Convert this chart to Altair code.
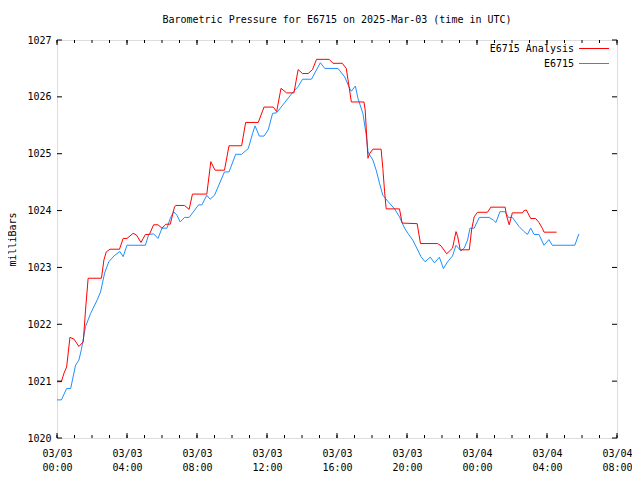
import json
import altair as alt
import pandas as pd

# ---- data (hours since 2025-03-03 00:00 UTC, pressure in mbar) ----
red_h = [0, 0.25, 0.4, 0.55, 0.74, 0.97, 1.25, 1.5, 1.63, 1.78, 2.54, 2.68, 2.81, 3.02, 3.57, 3.78, 4.0,
         4.35, 4.54, 4.8, 5.05, 5.28, 5.52, 5.77, 6.0, 6.22, 6.47, 6.72, 6.8, 7.29, 7.55, 7.74, 8.56, 8.79,
         9.03, 9.57, 9.83, 10.55, 10.78, 11.5, 11.83, 12.36, 12.55, 12.8, 13.12, 13.54, 13.78, 14.03, 14.35,
         14.6, 14.83, 15.55, 15.77, 16.3, 16.53, 16.63, 16.82, 17.54, 17.61, 17.67, 17.77, 17.86, 18.05,
         18.52, 18.62, 18.72, 18.81, 19.57, 19.72, 20.58, 20.77, 21.75, 21.94, 22.27, 22.6, 22.8, 22.9,
         23.04, 23.56, 23.69, 23.84, 24.03, 24.6, 24.79, 25.61, 25.68, 25.84, 26.02, 26.6, 26.69, 26.82,
         27.07, 27.35, 27.54, 27.73, 27.83, 28.55]
red_p = [1020.99, 1020.99, 1021.14, 1021.25, 1021.77, 1021.74, 1021.61, 1021.69, 1022.25, 1022.81,
         1022.81, 1023.13, 1023.27, 1023.32, 1023.32, 1023.51, 1023.51, 1023.6, 1023.57, 1023.44, 1023.58,
         1023.58, 1023.75, 1023.75, 1023.69, 1023.76, 1023.76, 1024.07, 1024.09, 1024.09, 1024.02, 1024.29,
         1024.29, 1024.86, 1024.71, 1024.71, 1025.14, 1025.14, 1025.55, 1025.55, 1025.82, 1025.82, 1025.74,
         1026.15, 1026.07, 1026.07, 1026.48, 1026.41, 1026.41, 1026.48, 1026.66, 1026.66, 1026.59, 1026.59,
         1026.5, 1026.3, 1025.91, 1025.91, 1025.77, 1025.45, 1024.92, 1025.0, 1025.08, 1025.08, 1024.74,
         1024.33, 1024.03, 1024.03, 1023.78, 1023.77, 1023.42, 1023.42, 1023.38, 1023.24, 1023.34, 1023.63,
         1023.54, 1023.31, 1023.31, 1023.66, 1023.89, 1023.97, 1023.97, 1024.06, 1024.06, 1023.92, 1023.75,
         1023.96, 1023.96, 1024.0, 1024.01, 1023.86, 1023.86, 1023.79, 1023.69, 1023.62, 1023.62]

blue_h = [0, 0.25, 0.55, 0.78, 1.06, 1.25, 1.39, 1.63, 1.92, 2.3, 2.49, 2.72, 2.96, 3.25, 3.59, 3.78, 4.0,
          5.05, 5.24, 5.52, 5.77, 6.0, 6.28, 6.47, 6.66, 6.85, 7.04, 7.29, 7.55, 8.09, 8.28, 8.56, 8.75, 9.0,
          9.57, 9.83, 10.21, 10.55, 10.93, 11.18, 11.32, 11.56, 11.83, 12.07, 12.32, 12.55, 13.5, 13.78,
          14.03, 14.54, 15.05, 15.3, 16.06, 16.44, 16.72, 16.82, 17.05, 17.2, 17.48, 17.67, 17.77, 17.86,
          18.05, 18.24, 18.43, 18.62, 18.91, 19.29, 19.57, 19.86, 20.05, 20.33, 20.8, 21.03, 21.33, 21.57,
          21.85, 22.08, 22.32, 22.6, 22.8, 23.08, 23.27, 23.46, 23.6, 23.84, 24.13, 24.7, 24.94, 25.08,
          25.31, 25.61, 25.8, 26.02, 26.4, 26.69, 26.88, 27.07, 27.26, 27.54, 27.83, 28.11, 28.3, 29.59,
          29.82]
blue_p = [1020.67, 1020.67, 1020.87, 1020.87, 1021.28, 1021.37, 1021.55, 1021.96, 1022.19, 1022.43,
          1022.57, 1022.9, 1023.1, 1023.2, 1023.28, 1023.19, 1023.39, 1023.39, 1023.58, 1023.59, 1023.51,
          1023.69, 1023.69, 1023.86, 1023.98, 1023.92, 1023.8, 1023.88, 1023.88, 1024.1, 1024.1, 1024.27,
          1024.2, 1024.27, 1024.68, 1024.68, 1024.99, 1024.99, 1025.09, 1025.36, 1025.49, 1025.31, 1025.31,
          1025.42, 1025.71, 1025.72, 1026.09, 1026.18, 1026.31, 1026.31, 1026.6, 1026.5, 1026.5, 1026.35,
          1026.15, 1026.1, 1026.19, 1025.97, 1025.71, 1025.33, 1025.04, 1024.98, 1024.89, 1024.71, 1024.48,
          1024.27, 1024.16, 1024.03, 1023.89, 1023.69, 1023.6, 1023.48, 1023.19, 1023.1, 1023.18, 1023.08,
          1023.18, 1022.98, 1023.1, 1023.2, 1023.39, 1023.29, 1023.34, 1023.48, 1023.69, 1023.69, 1023.88,
          1023.88, 1023.83, 1023.79, 1023.98, 1023.98, 1023.88, 1023.88, 1023.72, 1023.63, 1023.58, 1023.69,
          1023.58, 1023.58, 1023.39, 1023.49, 1023.39, 1023.39, 1023.59]

assert len(red_h) == len(red_p) and len(blue_h) == len(blue_p)

series_names = ["E6715 Analysis", "E6715"]
series_colors = ["#ff0000", "#1e8fff"]

x_major = [0, 4, 8, 12, 16, 20, 24, 28, 32]
x_minor = list(range(0, 33))
x_labels = [["03/03", "00:00"], ["03/03", "04:00"], ["03/03", "08:00"], ["03/03", "12:00"],
            ["03/03", "16:00"], ["03/03", "20:00"], ["03/04", "00:00"], ["03/04", "04:00"],
            ["03/04", "08:00"]]
y_ticks = [1020, 1021, 1022, 1023, 1024, 1025, 1026, 1027]

W, H = 560, 398
FONT = "DejaVu Sans Mono"

xs = alt.Scale(domain=[0, 32], nice=False, zero=False)
ys = alt.Scale(domain=[1020, 1027], nice=False, zero=False)

red_df = pd.DataFrame({"h": red_h, "p": red_p})
blue_df = pd.DataFrame({"h": blue_h, "p": blue_p})

label_expr = json.dumps(x_labels).replace('"', "'") + "[round(datum.value/4)]"

x_axis = alt.Axis(values=x_major, labelExpr=label_expr, ticks=False, domain=False, grid=False,
                  labelPadding=10, labelLineHeight=14, labelFont=FONT, labelFontSize=10,
                  labelColor="black", title=None, labelAngle=0, labelFlush=False, labelOverlap=False)
y_axis = alt.Axis(values=y_ticks, format="d", ticks=False, domain=False, grid=False,
                  labelPadding=6, labelFont=FONT, labelFontSize=10, labelColor="black",
                  labelFlush=False, labelOverlap=False,
                  title="milliBars", titleFont=FONT, titleFontSize=10, titleFontWeight="normal",
                  titleColor="black", titlePadding=9)

blue_line = alt.Chart(blue_df).mark_line(color=series_colors[1], strokeWidth=1, interpolate="linear").encode(
    x=alt.X("h:Q", scale=xs, axis=x_axis),
    y=alt.Y("p:Q", scale=ys, axis=y_axis),
)
red_line = alt.Chart(red_df).mark_line(color=series_colors[0], strokeWidth=1, interpolate="linear").encode(
    x=alt.X("h:Q", scale=xs),
    y=alt.Y("p:Q", scale=ys),
)

minor_df = pd.DataFrame({"h": x_minor})
major_df = pd.DataFrame({"h": x_major})
ytick_df = pd.DataFrame({"p": y_ticks})

def xticks(df, length):
    bottom = alt.Chart(df).mark_rule(color="black", strokeWidth=1).encode(
        x=alt.X("h:Q", scale=xs), y=alt.value(H - length), y2=alt.value(H))
    top = alt.Chart(df).mark_rule(color="black", strokeWidth=1).encode(
        x=alt.X("h:Q", scale=xs), y=alt.value(0), y2=alt.value(length))
    return [bottom, top]

left_ticks = alt.Chart(ytick_df).mark_rule(color="black", strokeWidth=1).encode(
    y=alt.Y("p:Q", scale=ys), x=alt.value(0), x2=alt.value(5))
right_ticks = alt.Chart(ytick_df).mark_rule(color="black", strokeWidth=1).encode(
    y=alt.Y("p:Q", scale=ys), x=alt.value(W - 5), x2=alt.value(W))

legend_layers = []
for i, (name, color) in enumerate(zip(series_names, series_colors)):
    ldf = pd.DataFrame({"name": [name]})
    ypos = 8.5 + 15 * i
    legend_layers.append(
        alt.Chart(ldf).mark_text(align="right", baseline="middle", font=FONT, fontSize=10,
                                 color="black").encode(text="name:N", x=alt.value(517), y=alt.value(ypos)))
    legend_layers.append(
        alt.Chart(ldf).mark_rule(strokeWidth=1, color=color).encode(
            x=alt.value(522), x2=alt.value(552), y=alt.value(ypos)))

chart = alt.layer(
    blue_line, red_line,
    *xticks(minor_df, 3), *xticks(major_df, 5), left_ticks, right_ticks,
    *legend_layers,
).properties(
    width=W, height=H,
    autosize=alt.AutoSizeParams(type="none"),
    padding={"left": 49, "top": 32, "right": 15, "bottom": 34},
    title=alt.Title("Barometric Pressure for E6715 on 2025-Mar-03 (time in UTC)", font=FONT,
                    fontSize=10, fontWeight="normal", color="black", anchor="middle", offset=10),
).configure_view(stroke="black", strokeWidth=1).configure(background="white")

chart.save("out.html", embed_options={"renderer": "svg", "actions": False})
